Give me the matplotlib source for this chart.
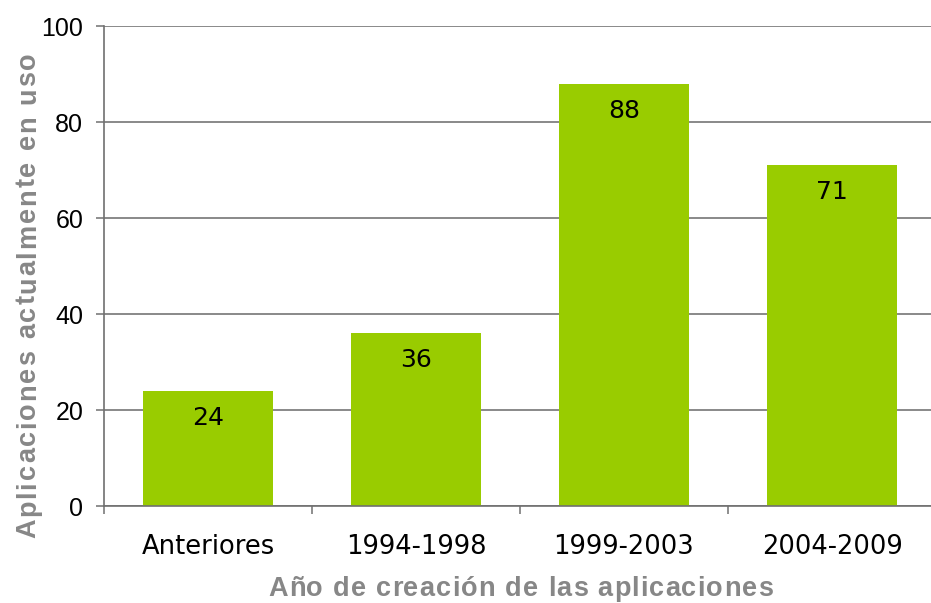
import matplotlib
matplotlib.use("Agg")
import matplotlib.pyplot as plt
import numpy as np
from matplotlib.font_manager import findfont, FontProperties
from matplotlib.ft2font import FT2Font

categories = ["Anteriores", "1994-1998", "1999-2003", "2004-2009"]
values = [24, 36, 88, 71]
y_ticks = [0, 20, 40, 60, 80, 100]
x_title = "Año de creación de las aplicaciones"
y_title = "Aplicaciones actualmente en uso"

W, H, DPI = 931, 603, 100
fig = plt.figure(figsize=(W / DPI, H / DPI), dpi=DPI)
left, right, top, bottom = 104, 936, 26, 506
ax = fig.add_axes([left / W, (H - bottom) / H, (right - left) / W, (bottom - top) / H])

x = np.arange(len(categories))
ax.bar(x, values, width=0.625, color="#99CC00", zorder=2)
ax.set_xlim(-0.5, len(categories) - 0.5)
ax.set_ylim(0, 100)

for xi, v in zip(x, values):
    ax.annotate(str(v), (xi, v), xytext=(0, -19.5), textcoords="offset points",
                ha="center", va="center", fontsize=18, family="DejaVu Sans",
                color="black", zorder=3)

ax.set_yticks(y_ticks)
ax.set_yticklabels([str(t) for t in y_ticks], family="Liberation Sans", fontsize=18)
ax.yaxis.grid(True, color="#808080", linewidth=1.3, zorder=0)
ax.set_axisbelow(True)
ax.tick_params(axis="y", length=6, width=1.1, color="#707070", pad=9)

ax.set_xticks(x)
ax.set_xticklabels(categories, family="DejaVu Sans", fontsize=18.5)
ax.set_xticks(np.arange(-0.5, len(categories), 1.0), minor=True)
ax.tick_params(axis="x", which="major", length=0, pad=20)
ax.tick_params(axis="x", which="minor", length=6, width=1.1, color="#707070")

for s in ["top", "right"]:
    ax.spines[s].set_visible(False)
for s in ["left", "bottom"]:
    ax.spines[s].set_color("#707070")
    ax.spines[s].set_linewidth(1.2)
    ax.spines[s].set_zorder(4)


def advances(text, fp, size):
    font = FT2Font(findfont(fp))
    font.set_size(size, DPI)
    try:
        from matplotlib.ft2font import LoadFlags
        flags = LoadFlags.NO_HINTING
    except Exception:
        from matplotlib.ft2font import LOAD_NO_HINTING as flags
    return [font.load_char(ord(c), flags=flags).linearHoriAdvance / 65536.0 for c in text]


def spaced_text(text, start_px, base_px, total_px, size, vertical=False, **kw):
    fp = FontProperties(family="Liberation Sans", weight="bold", size=size)
    adv = advances(text, fp, size)
    natural = sum(adv)
    track = (total_px - natural) / (len(text) - 1)
    pos = 0.0
    for c, a in zip(text, adv):
        if c != " ":
            if vertical:
                fx, fy = base_px / W, (H - (start_px - pos)) / H
                rot = 90
            else:
                fx, fy = (start_px + pos) / W, (H - base_px) / H
                rot = 0
            fig.text(fx, fy, c, fontproperties=fp, rotation=rot, rotation_mode="anchor",
                     ha="left", va="baseline", **kw)
        pos += a + track


spaced_text(x_title, 268, 596, 505, 19.5, color="#878787")
spaced_text(y_title, 538, 35, 486, 19.5, vertical=True, color="#878787")

fig.savefig("out.png", dpi=DPI)
